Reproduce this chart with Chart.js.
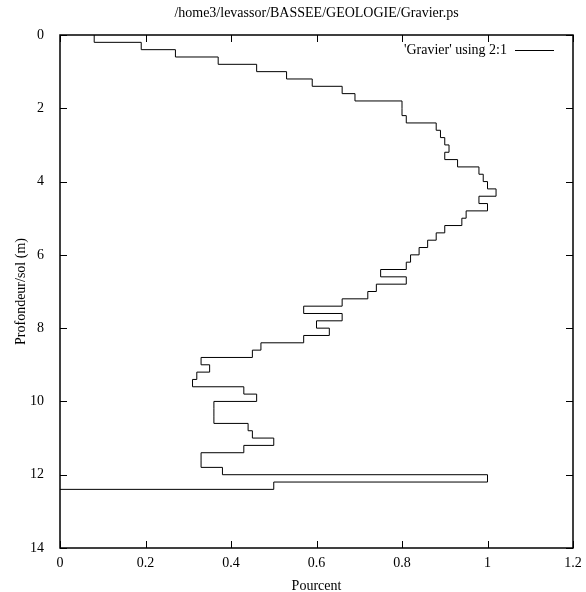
<!DOCTYPE html>
<html><head><meta charset="utf-8">
<script src="https://cdn.jsdelivr.net/npm/chart.js@4.4.1/dist/chart.umd.min.js"></script>
<style>html,body{margin:0;padding:0;background:#fff}#wrap{width:586px;height:592px}</style>
</head><body><div id="wrap"><canvas id="c" width="586" height="592"></canvas></div>
<script>
const depths = [0,0.2,0.4,0.6,0.8,1,1.2,1.4,1.6,1.8,
  2,2.2,2.4,2.6,2.8,3,3.2,3.4,3.6,3.8,
  4,4.2,4.4,4.6,4.8,5,5.2,5.4,5.6,5.8,
  6,6.2,6.4,6.6,6.8,7,7.2,7.4,7.6,7.8,
  8,8.2,8.4,8.6,8.8,9,9.2,9.4,9.6,9.8,
  10,10.2,10.4,10.6,10.8,11,11.2,11.4,11.6,11.8,
  12,12.2,12.4];
const percents = [0.08,0.19,0.27,0.37,0.46,0.53,0.59,0.66,0.69,0.80,
  0.80,0.81,0.88,0.89,0.90,0.91,0.90,0.93,0.98,0.99,
  1.00,1.02,0.98,1.00,0.95,0.94,0.90,0.88,0.86,0.84,
  0.82,0.81,0.75,0.81,0.74,0.72,0.66,0.57,0.66,0.60,
  0.63,0.57,0.47,0.45,0.33,0.35,0.32,0.31,0.43,0.46,
  0.36,0.36,0.36,0.44,0.45,0.50,0.43,0.33,0.33,0.38,
  1.00,0.50,0.00];
const xTickValues = [0,0.2,0.4,0.6,0.8,1,1.2];
const yTickValues = [0,2,4,6,8,10,12,14];
const chartTitle = '/home3/levassor/BASSEE/GEOLOGIE/Gravier.ps';
const seriesLabel = "'Gravier' using 2:1";
const xTitle = 'Pourcent';
const yTitle = 'Profondeur/sol (m)';

const FONT = {family: '"Liberation Serif", "Times New Roman", serif', size: 14};

const points = depths.map((d, i) => ({x: percents[i], y: d}));

const framePlugin = {
  id: 'frame',
  afterDraw(chart) {
    const {ctx, chartArea: {left, right, top, bottom}, scales: {x, y}} = chart;
    ctx.save();
    ctx.strokeStyle = '#000';
    ctx.lineWidth = 1;
    ctx.beginPath();
    x.ticks.forEach(t => {
      const px = Math.round(x.getPixelForValue(t.value)) + 0.5;
      ctx.moveTo(px, bottom); ctx.lineTo(px, bottom - 7);
      ctx.moveTo(px, top); ctx.lineTo(px, top + 7);
    });
    y.ticks.forEach(t => {
      const py = Math.round(y.getPixelForValue(t.value)) + 0.5;
      ctx.moveTo(left, py); ctx.lineTo(left + 7, py);
      ctx.moveTo(right, py); ctx.lineTo(right - 7, py);
    });
    ctx.stroke();
    ctx.lineWidth = 1.5;
    ctx.strokeRect(left, top, right - left, bottom - top);
    // legend inside plot, top right
    ctx.font = FONT.size + 'px ' + FONT.family;
    ctx.fillStyle = '#000';
    ctx.textAlign = 'right';
    ctx.textBaseline = 'middle';
    const ly = top + 15;
    ctx.fillText(chart.data.datasets[0].label, right - 66, ly);
    ctx.lineWidth = 1;
    ctx.beginPath();
    ctx.moveTo(right - 58, ly + 0.5); ctx.lineTo(right - 19, ly + 0.5);
    ctx.stroke();
    ctx.restore();
  }
};

new Chart(document.getElementById('c'), {
  type: 'scatter',
  data: {
    datasets: [{
      label: seriesLabel,
      data: points,
      showLine: true,
      stepped: 'after',
      borderColor: '#000',
      borderWidth: 1,
      pointRadius: 0,
      fill: false
    }]
  },
  options: {
    responsive: false,
    animation: false,
    devicePixelRatio: 1,
    layout: {padding: {left: 12, right: 13, top: 0, bottom: 0}},
    plugins: {
      legend: {display: false},
      tooltip: {enabled: false},
      title: {
        display: true, text: chartTitle, fullSize: false,
        font: {...FONT, weight: 'normal'}, color: '#000',
        padding: {top: 5, bottom: 13.2}
      }
    },
    scales: {
      x: {
        type: 'linear', min: 0, max: 1.2,
        afterBuildTicks: s => { s.ticks = xTickValues.map(v => ({value: v})); },
        afterFit: s => { s.paddingLeft = 0; s.paddingRight = 0; s.height = 44; },
        grid: {display: false},
        border: {display: false},
        ticks: {font: FONT, color: '#000', padding: -1, maxRotation: 0, autoSkip: false,
          callback: v => String(v)},
        title: {display: true, text: xTitle, font: FONT, color: '#000', padding: {top: 0, bottom: -3}}
      },
      y: {
        type: 'linear', reverse: true, min: 0, max: 14,
        afterBuildTicks: s => { s.ticks = yTickValues.map(v => ({value: v})); },
        afterFit: s => { s.paddingTop = 0; s.paddingBottom = 0; s.width = 48; },
        grid: {display: false},
        border: {display: false},
        ticks: {font: FONT, color: '#000', padding: 8, autoSkip: false,
          callback: v => String(v)},
        title: {display: true, text: yTitle, font: FONT, color: '#000', padding: {top: 1, bottom: 0}}
      }
    }
  },
  plugins: [framePlugin]
});
</script>
</body></html>
